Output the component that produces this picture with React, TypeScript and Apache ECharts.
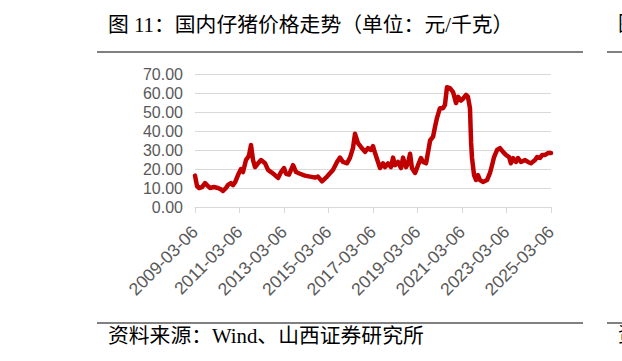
import React, { useEffect, useRef } from "react";
import * as echarts from "echarts";

// months since 2009-03-06
const months: number[] = [
  0, 0.5, 1.1, 2.2, 3.8, 5.4, 6.5, 8.1, 10.2, 12.4, 14.0, 15.1, 16.7, 17.8, 19.4, 20.5, 21.6, 23.2,
  24.8, 25.9, 27.5, 29.1, 30.2, 31.3, 32.4, 34.0, 35.6, 37.8, 39.4, 41.0, 43.1, 44.8, 46.4, 48.0,
  49.1, 50.7, 52.9, 54.5, 56.6, 59.3, 62.0, 64.7, 66.3, 68.5, 71.2, 74.4, 76.6, 78.2, 79.8, 82.0,
  83.6, 85.2, 86.3, 87.9, 89.5, 91.7, 93.3, 94.9, 96.0, 97.1, 98.7, 99.8, 101.4, 102.5, 104.1,
  105.7, 106.8, 107.9, 109.5, 111.1, 112.2, 113.8, 114.9, 116.0, 117.0, 118.7, 120.3, 121.9,
  123.0, 124.6, 125.7, 126.8, 128.4, 129.4, 130.5, 132.1, 133.8, 134.8, 135.9, 137.5, 139.2,
  140.8, 141.9, 143.5, 144.6, 146.2, 147.2, 148.3, 148.9, 149.4, 150.5, 151.6, 152.6, 153.7,
  155.3, 157.5, 159.1, 160.2, 161.3, 162.9, 164.5, 166.1, 167.7, 169.4, 170.4, 171.5, 173.1,
  174.2, 175.8, 178.0, 179.6, 181.2, 183.4, 184.5, 186.1, 187.2, 188.8, 190.4, 192.0,
];

const prices: number[] = [
  16.5, 14, 11, 10, 10.5, 12.6, 11.5, 10, 10.5, 10, 9.3, 8.4, 10, 11.6, 12.6, 11.5, 13, 16.8,
  20, 18.4, 24.7, 27, 32.6, 24.7, 21, 23, 24.7, 23, 19.5, 18.4, 16.8, 15.3, 18.4, 20.5,
  17.5, 17, 22, 18.4, 17.5, 16.5, 16, 15.5, 16, 13.5, 16, 19.5, 23.7, 26, 23.7, 23,
  26, 31, 38.5, 33.6, 31.6, 29, 31, 30, 32, 28.4, 23.7, 20.5, 23, 21, 23,
  21, 26, 22, 23.7, 20.5, 26, 21, 23, 28, 20.5, 17.9, 22, 25.8,
  23.7, 23, 28.9, 35, 37, 42, 46.8, 52, 52, 53.7, 63, 62.6, 60.5,
  54.7, 58, 56, 57, 59, 58, 52, 34, 25.8, 16.8, 14.2, 16.8, 14.2,
  13.2, 14.2, 17.9, 22, 26.3, 30, 31, 29, 27.4, 26.3, 23, 25.8, 23.7,
  25.8, 23.7, 24.7, 23.7, 23, 24.7, 26.3, 25.8, 27.4, 27.4, 28.4, 28.4,
];

const startYear = 2009;
const tickSuffix = "-03-06";
const yTicks = [0, 10, 20, 30, 40, 50, 60, 70];

const titleText = "图 11：国内仔猪价格走势（单位：元/千克）";
const sourceText = "资料来源：Wind、山西证券研究所";

export default function App() {
  const ref = useRef<HTMLDivElement>(null);
  useEffect(() => {
    if (!ref.current) return;
    const chart = echarts.init(ref.current, null, { renderer: "svg" });
    const data = months.map((m, i) => [m, prices[i]]);
    const serif = "'Liberation Serif', 'Noto Sans CJK SC', serif";
    chart.setOption({
      animation: false,
      backgroundColor: "#ffffff",
      grid: { left: 195, right: 71, top: 74, bottom: 154, containLabel: false },
      xAxis: {
        type: "value",
        min: 0,
        max: 192,
        interval: 24,
        axisLine: { show: true, lineStyle: { color: "#D9D9D9", width: 1 } },
        axisTick: { show: true, length: 6, lineStyle: { color: "#D9D9D9" } },
        splitLine: { show: false },
        axisLabel: {
          rotate: 45,
          margin: 22,
          color: "#595959",
          fontSize: 17.5,
          fontFamily: "'Liberation Sans', sans-serif",
          formatter: (v: number) => `${startYear + Math.round(v / 12)}${tickSuffix}`,
        },
      },
      yAxis: {
        type: "value",
        min: yTicks[0],
        max: yTicks[yTicks.length - 1],
        interval: 10,
        axisLine: { show: false },
        axisTick: { show: false },
        splitLine: { show: true, lineStyle: { color: "#D9D9D9", width: 1 } },
        axisLabel: {
          margin: 12,
          color: "#595959",
          fontSize: 16,
          fontFamily: "'Liberation Sans', sans-serif",
          formatter: (v: number) => v.toFixed(2),
        },
      },
      series: [
        {
          type: "line",
          data,
          showSymbol: false,
          symbol: "none",
          lineStyle: { color: "#C00000", width: 4.5, join: "round", cap: "round" },
        },
      ],
      graphic: [
        {
          type: "text",
          left: 108,
          top: 14,
          style: { text: titleText, fontSize: 20.8, fontFamily: serif, fill: "#000000" },
        },
        {
          type: "text",
          left: 618,
          top: 14,
          style: { text: "图", fontSize: 20, fontFamily: serif, fill: "#000000" },
        },
        {
          type: "line",
          shape: { x1: 97, y1: 52, x2: 583, y2: 52 },
          style: { stroke: "#808080", lineWidth: 2 },
        },
        {
          type: "line",
          shape: { x1: 607, y1: 52, x2: 622, y2: 52 },
          style: { stroke: "#808080", lineWidth: 2 },
        },
        {
          type: "line",
          shape: { x1: 97, y1: 323, x2: 583, y2: 323 },
          style: { stroke: "#808080", lineWidth: 2 },
        },
        {
          type: "line",
          shape: { x1: 607, y1: 323, x2: 622, y2: 323 },
          style: { stroke: "#808080", lineWidth: 2 },
        },
        {
          type: "text",
          left: 108,
          top: 325,
          style: { text: sourceText, fontSize: 20.8, fontFamily: serif, fill: "#000000" },
        },
        {
          type: "text",
          left: 618,
          top: 325,
          style: { text: "资", fontSize: 20, fontFamily: serif, fill: "#000000" },
        },
      ],
    });
    return () => chart.dispose();
  }, []);
  return (
    <div
      ref={ref}
      style={{ position: "absolute", left: 0, top: 0, width: 622, height: 361 }}
    />
  );
}
